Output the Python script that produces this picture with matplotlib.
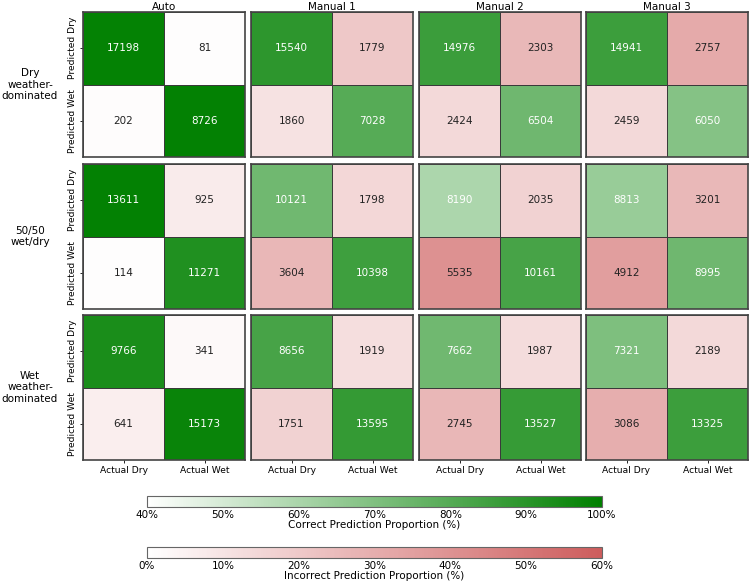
import numpy as np
import matplotlib
matplotlib.use("Agg")
import matplotlib.pyplot as plt
from matplotlib.colors import LinearSegmentedColormap, Normalize
import matplotlib.cm as cm

scenarios = ["Dry\nweather-\ndominated", "50/50\nwet/dry", "Wet\nweather-\ndominated"]
methods = ["Auto", "Manual 1", "Manual 2", "Manual 3"]
pred_labels = ["Predicted Dry", "Predicted Wet"]
actual_labels = ["Actual Dry", "Actual Wet"]

# rows: predicted dry / wet, cols: actual dry / wet
dry_auto = [[17198, 81], [202, 8726]]
dry_m1 = [[15540, 1779], [1860, 7028]]
dry_m2 = [[14976, 2303], [2424, 6504]]
dry_m3 = [[14941, 2757], [2459, 6050]]
mix_auto = [[13611, 925], [114, 11271]]
mix_m1 = [[10121, 1798], [3604, 10398]]
mix_m2 = [[8190, 2035], [5535, 10161]]
mix_m3 = [[8813, 3201], [4912, 8995]]
wet_auto = [[9766, 341], [641, 15173]]
wet_m1 = [[8656, 1919], [1751, 13595]]
wet_m2 = [[7662, 1987], [2745, 13527]]
wet_m3 = [[7321, 2189], [3086, 13325]]

grid = [[dry_auto, dry_m1, dry_m2, dry_m3],
        [mix_auto, mix_m1, mix_m2, mix_m3],
        [wet_auto, wet_m1, wet_m2, wet_m3]]

green = LinearSegmentedColormap.from_list("g", ["white", "green"])
red = LinearSegmentedColormap.from_list("r", ["white", "#cd5c5c"])
gnorm = Normalize(40, 100)
rnorm = Normalize(0, 60)

W, H = 750, 586
fig = plt.figure(figsize=(W / 100, H / 100), dpi=100)

lefts = [83, 251, 419, 586]
tops = [12, 164, 315]
aw, ah = 162, 145
diag = np.eye(2, dtype=bool)

for i, row in enumerate(grid):
    for j, m in enumerate(row):
        m = np.array(m, dtype=float)
        pct = m / m.sum(axis=0) * 100
        ax = fig.add_axes([lefts[j] / W, (H - tops[i] - ah) / H, aw / W, ah / H])
        ax.pcolormesh(np.ma.masked_where(~diag, pct), cmap=green, norm=gnorm,
                      edgecolors="#3a3a3a", linewidth=0.4)
        ax.pcolormesh(np.ma.masked_where(diag, pct), cmap=red, norm=rnorm,
                      edgecolors="#3a3a3a", linewidth=0.4)
        ax.set_xlim(0, 2)
        ax.set_ylim(2, 0)
        for r in range(2):
            for c in range(2):
                ax.text(c + 0.5, r + 0.5, f"{int(m[r, c])}", ha="center", va="center",
                        fontsize=7.5, color="white" if r == c else "#222222")
        for s in ax.spines.values():
            s.set_linewidth(1.2)
            s.set_color("#444444")
        ax.set_xticks([0.5, 1.5])
        ax.set_yticks([0.5, 1.5])
        ax.tick_params(length=2, pad=2, width=0.6)
        if i == 2:
            ax.set_xticklabels(actual_labels, fontsize=6.6)
        else:
            ax.set_xticklabels([])
            ax.tick_params(axis="x", length=0)
        if j == 0:
            ax.set_yticklabels(pred_labels, fontsize=6.6, rotation=90, va="center")
        else:
            ax.set_yticklabels([])
            ax.tick_params(axis="y", length=0)
        if i == 0:
            ax.set_title(methods[j], fontsize=7.5, pad=1.5)
    fig.text(30 / W, (H - tops[i] - ah / 2) / H, scenarios[i], ha="center",
             va="center", fontsize=7.5, linespacing=1.15)

pct_ticks_g = [40, 50, 60, 70, 80, 90, 100]
pct_ticks_r = [0, 10, 20, 30, 40, 50, 60]

cax1 = fig.add_axes([147 / W, (H - 496 - 11) / H, 455 / W, 11 / H])
cb1 = fig.colorbar(cm.ScalarMappable(norm=gnorm, cmap=green), cax=cax1, orientation="horizontal")
cb1.set_ticks(pct_ticks_g)
cb1.set_ticklabels([f"{t}%" for t in pct_ticks_g])
cb1.ax.tick_params(labelsize=7.5, length=0, pad=2)
cb1.set_label("Correct Prediction Proportion (%)", fontsize=7.5, labelpad=0)
cb1.outline.set_edgecolor("#666666")

cax2 = fig.add_axes([147 / W, (H - 547 - 11) / H, 455 / W, 11 / H])
cb2 = fig.colorbar(cm.ScalarMappable(norm=rnorm, cmap=red), cax=cax2, orientation="horizontal")
cb2.set_ticks(pct_ticks_r)
cb2.set_ticklabels([f"{t}%" for t in pct_ticks_r])
cb2.ax.tick_params(labelsize=7.5, length=0, pad=2)
cb2.set_label("Incorrect Prediction Proportion (%)", fontsize=7.5, labelpad=0)
cb2.outline.set_edgecolor("#666666")

fig.savefig("out.png", dpi=100)
